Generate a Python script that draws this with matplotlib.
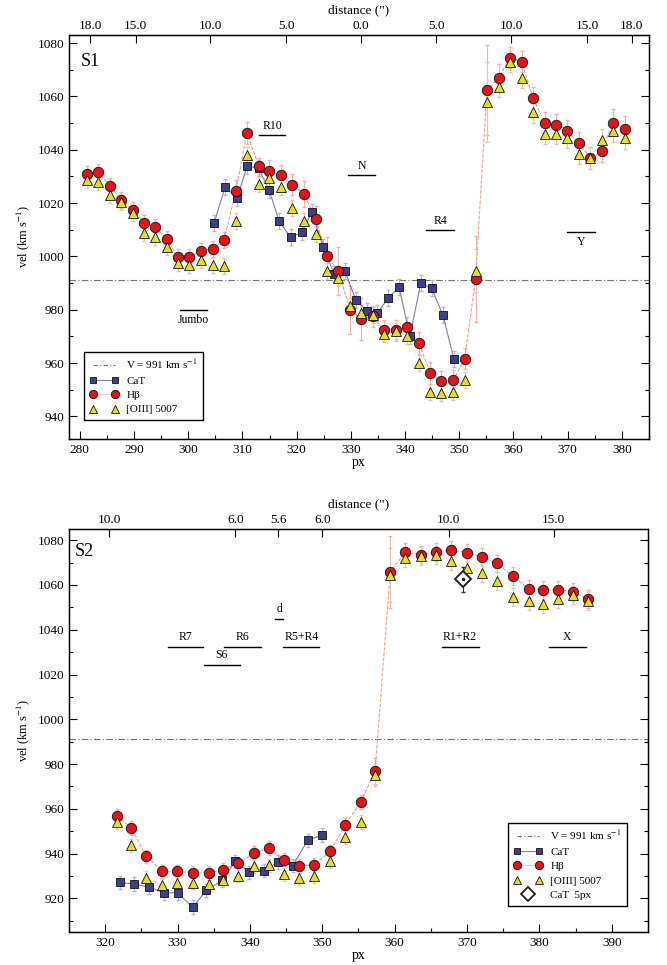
import numpy as np
import matplotlib
matplotlib.use("Agg")
import matplotlib.pyplot as plt
from matplotlib.ticker import MultipleLocator
from matplotlib.legend_handler import HandlerLine2D

plt.rcParams['font.family'] = ['Liberation Serif', 'DejaVu Serif']
plt.rcParams['mathtext.fontset'] = 'stix'

# ---------------- S1 data ----------------
s1_px = [281.3, 283.3, 285.6, 287.6, 289.8, 291.9, 293.9, 296.0, 298.1, 300.2,
         302.4, 304.5, 306.6, 308.8, 310.8, 313.0, 314.9, 317.1, 319.2, 321.4,
         323.5, 325.6, 327.6, 329.9, 331.9, 334.0, 336.1, 338.3, 340.4, 342.6,
         344.6, 346.7, 348.9, 351.0, 353.0, 355.1, 357.3, 359.3, 361.5, 363.6,
         365.8, 367.9, 369.9, 372.0, 374.2, 376.3, 378.3, 380.5]
s1_hb = [1031.0, 1031.6, 1026.5, 1021.2, 1017.5, 1012.7, 1011.0, 1006.6, 999.8, 999.8,
         1002.2, 1002.9, 1006.0, 1024.6, 1046.3, 1034.0, 1032.2, 1030.4, 1026.9, 1023.4,
         1014.0, 1000.2, 994.7, 980.0, 976.5, 977.5, 972.2, 972.2, 973.4, 967.5,
         956.3, 953.1, 953.5, 961.6, 991.5, 1062.5, 1067.1, 1074.6, 1073.1, 1059.4,
         1050.0, 1049.4, 1047.2, 1042.7, 1036.9, 1039.4, 1050.2, 1047.8]
s1_hb_err = [3, 3, 3, 3, 3, 3, 3, 3, 3, 3,
             3, 3, 3, 4, 4, 3, 4, 4, 4, 5,
             5, 7, 9, 9, 8, 4, 4, 4, 4, 4,
             4, 4, 4, 4, 16, 17, 5, 4, 4, 4,
             4, 4, 4, 4, 4, 4, 5, 5]
s1_oiii = [1028.7, 1028.1, 1022.9, 1020.5, 1016.3, 1008.8, 1007.1, 1003.5, 997.5, 996.9,
           998.7, 996.9, 996.5, 1013.1, 1037.9, 1027.2, 1029.4, 1025.9, 1018.1, 1013.1,
           1008.4, 994.4, 991.9, 981.5, 978.8, 977.9, 970.9, 972.1, 970.3, 960.0,
           949.1, 948.8, 949.1, 953.8, 994.7, 1058.1, 1063.7, 1073.1, 1067.1, 1054.0,
           1046.0, 1046.0, 1044.6, 1038.5, 1036.9, 1043.7, 1047.1, 1044.4]
s1_oiii_err = [3] * 34 + [8, 15] + [4] * 12
s1_cat_px = [304.8, 306.8, 309.0, 310.9, 313.0, 314.9, 316.8, 318.9, 320.9, 322.8,
             324.9, 326.9, 328.9, 330.9, 333.0, 334.9, 336.9, 338.9, 340.9, 342.9,
             344.9, 347.0, 349.0]
s1_cat = [1012.7, 1026.0, 1021.9, 1034.0, 1033.0, 1025.0, 1013.1, 1007.1, 1009.0, 1016.6,
          1003.5, 993.5, 994.6, 983.7, 979.4, 978.8, 984.4, 988.5, 970.0, 990.0,
          988.1, 977.9, 961.6]
s1_cat_err = [3] * 23
s1_top_pos = [281.9, 290.3, 304.1, 318.1, 331.9, 345.8, 359.6, 373.6, 381.8]
s1_top_lab = ['18.0', '15.0', '10.0', '5.0', '0.0', '5.0', '10.0', '15.0', '18.0']
s1_regions = ['R10', 'N', 'R4', 'Y', 'Jumbo']
s1_reg_x = [(313.1, 317.9), (329.4, 334.5), (343.9, 349.0), (369.9, 375.1), (298.5, 303.5)]
s1_reg_y = [1045.6, 1030.4, 1010.0, 1009.1, 980.0]

# ---------------- S2 data ----------------
s2_px = [321.7, 323.6, 325.7, 327.9, 329.9, 332.1, 334.3, 336.3, 338.4, 340.5,
         342.6, 344.7, 346.8, 348.9, 351.1, 353.2, 355.3, 357.3, 359.4, 361.5,
         363.6, 365.7, 367.8, 370.0, 372.1, 374.2, 376.3, 378.5, 380.5, 382.6,
         384.7, 386.7]
s2_hb = [956.9, 951.4, 938.8, 932.1, 932.1, 931.4, 931.4, 932.9, 935.6, 940.3,
         942.5, 937.3, 934.4, 935.1, 941.0, 952.9, 963.0, 976.9, 1065.9, 1074.7,
         1073.6, 1074.8, 1075.6, 1074.4, 1072.6, 1069.6, 1064.0, 1058.4, 1057.6, 1057.9,
         1057.0, 1053.6]
s2_hb_err = [3] * 17 + [6, 16] + [4] * 13
s2_oiii = [954.1, 943.7, 929.2, 925.8, 927.0, 927.0, 926.5, 928.4, 930.2, 934.4,
           934.8, 930.7, 929.2, 929.9, 936.6, 947.4, 954.1, 975.1, 1064.4, 1072.1,
           1072.9, 1073.2, 1070.7, 1067.4, 1065.5, 1061.8, 1054.7, 1052.9, 1051.4, 1053.6,
           1055.4, 1052.9]
s2_oiii_err = [3] * 17 + [5, 12] + [4] * 13
s2_cat_px = [322.1, 324.0, 326.1, 328.1, 330.0, 332.1, 334.0, 336.2, 338.0, 339.9,
             342.0, 343.9, 345.9, 348.0, 350.0]
s2_cat = [927.2, 926.4, 925.0, 922.5, 922.5, 916.1, 923.6, 928.1, 936.6, 931.7,
          932.4, 936.3, 934.7, 945.9, 948.4]
s2_cat_err = [3] * 15
s2_cat5_px = [369.4]
s2_cat5 = [1062.5]
s2_cat5_err = [5.5]
s2_top_pos = [320.6, 338.0, 343.9, 350.0, 367.5, 382.0]
s2_top_lab = ['10.0', '6.0', '5.6', '6.0', '10.0', '15.0']
s2_regions = ['R7', 'R6', 'S6', 'd', 'R5+R4', 'R1+R2', 'X']
s2_reg_x = [(328.7, 333.5), (336.4, 341.5), (333.6, 338.6), (343.5, 344.6),
            (344.6, 349.6), (366.5, 371.6), (381.3, 386.4)]
s2_reg_y = [1032.4, 1032.4, 1024.4, 1044.9, 1032.4, 1032.4, 1032.4]

V0 = 991

c_cat = '#3b3f8c'
c_hb = '#e3121b'
c_oiii = '#e2df1e'


def draw_panel(ax, px, hb, hb_err, oiii, oiii_err, cat_px, cat, cat_err):
    ax.axhline(V0, color='#777777', ls=(0, (6, 2, 1, 2)), lw=0.8, zorder=1)
    ax.errorbar(px, hb, yerr=hb_err, fmt='none', ecolor='#f2b0b0', elinewidth=0.8,
                capsize=1.5, zorder=2)
    ax.errorbar(px, oiii, yerr=oiii_err, fmt='none', ecolor='#ddc8b8', elinewidth=0.8,
                capsize=1.5, zorder=2)
    ax.errorbar(cat_px, cat, yerr=cat_err, fmt='none', ecolor='#b8b8cc', elinewidth=0.8,
                capsize=1.5, zorder=2)
    ax.plot(px, hb, color='#e89090', lw=0.7, ls='--', zorder=3)
    ax.plot(px, oiii, color='#e8dca0', lw=0.6, ls=':', zorder=3)
    ax.plot(cat_px, cat, color='#8080a8', lw=0.8, marker='s', ms=6, mfc=c_cat,
            mec='#111111', mew=0.6, zorder=4)
    ax.plot(px, hb, ls='none', marker='o', ms=7.5, mfc=c_hb, mec='#111111', mew=0.6,
            zorder=5)
    ax.plot(px, oiii, ls='none', marker='^', ms=6.5, mfc=c_oiii, mec='#111111', mew=0.6,
            zorder=6)


def style_axes(ax, xlim, ylim, top_pos, top_lab):
    ax.set_xlim(*xlim)
    ax.set_ylim(*ylim)
    ax.xaxis.set_major_locator(MultipleLocator(10))
    ax.xaxis.set_minor_locator(MultipleLocator(5))
    ax.yaxis.set_major_locator(MultipleLocator(20))
    ax.yaxis.set_minor_locator(MultipleLocator(10))
    ax.tick_params(which='both', direction='in', right=True, top=False, labelsize=9.5)
    ax.tick_params(which='major', length=6, width=0.8)
    ax.tick_params(which='minor', length=3, width=0.8)
    ax.set_xlabel('px', fontsize=10, labelpad=0)
    ax.set_ylabel('vel (km s$^{-1}$)', fontsize=9, labelpad=4)
    for s in ax.spines.values():
        s.set_linewidth(1.0)
    ax2 = ax.twiny()
    ax2.set_xlim(*xlim)
    ax2.set_xticks(top_pos)
    ax2.set_xticklabels(top_lab)
    ax2.tick_params(direction='in', length=6, width=0.8, labelsize=9.5, pad=2)
    ax2.set_xlabel('distance (")', fontsize=9.5, labelpad=5)
    return ax2


fig = plt.figure(figsize=(6.67, 9.65), dpi=100)
ax1 = fig.add_axes([0.1034, 0.5451, 0.8696, 0.419])
ax3 = fig.add_axes([0.1034, 0.0342, 0.868, 0.4176])

# ---- S1 ----
draw_panel(ax1, s1_px, s1_hb, s1_hb_err, s1_oiii, s1_oiii_err, s1_cat_px, s1_cat, s1_cat_err)
style_axes(ax1, (278, 385), (931.5, 1083.2), s1_top_pos, s1_top_lab)
ax1.text(0.02, 0.955, 'S1', transform=ax1.transAxes, fontsize=13, va='top', ha='left')
for name, (x0, x1), y in zip(s1_regions, s1_reg_x, s1_reg_y):
    ax1.plot([x0, x1], [y, y], color='black', lw=1.0)
    if name in ('Y', 'Jumbo'):
        ax1.text((x0 + x1) / 2, y - 1.5, name, ha='center', va='top', fontsize=8.5)
    else:
        ax1.text((x0 + x1) / 2, y + 1.2, name, ha='center', va='bottom', fontsize=8.5)

h_v = plt.Line2D([], [], color='#777777', ls=(0, (4, 2, 1, 2)), lw=0.8)
h_cat = plt.Line2D([], [], color='#8080a8', lw=0.8, marker='s', ms=5, mfc=c_cat, mec='#111111', mew=0.6)
h_hb = plt.Line2D([], [], color='#f0c0c0', lw=0.6, marker='o', ms=6, mfc=c_hb, mec='#111111', mew=0.6)
h_oiii = plt.Line2D([], [], color='none', marker='^', ms=5.5, mfc=c_oiii, mec='#111111', mew=0.6)
leg_kw = dict(borderaxespad=0, fontsize=8, numpoints=2, handlelength=2.6, fancybox=False,
              framealpha=1, edgecolor='black', borderpad=0.5, labelspacing=0.42,
              handletextpad=0.7)
leg = ax1.legend([h_v, h_cat, h_hb, h_oiii],
                 ['V = 991 km s$^{-1}$', 'CaT', 'Hβ', '[OIII] 5007'],
                 loc='lower left', bbox_to_anchor=(0.026, 0.047), **leg_kw)
leg.get_frame().set_linewidth(1.0)

# ---- S2 ----
draw_panel(ax3, s2_px, s2_hb, s2_hb_err, s2_oiii, s2_oiii_err, s2_cat_px, s2_cat, s2_cat_err)
ax3.errorbar(s2_cat5_px, s2_cat5, yerr=s2_cat5_err, fmt='none', ecolor='#333333',
             elinewidth=0.8, capsize=1.5, zorder=6)
ax3.plot(s2_cat5_px, s2_cat5, ls='none', marker='D', ms=8, mfc='white', mec='#222222',
         mew=1.4, zorder=7)
ax3.plot(s2_cat5_px, s2_cat5, ls='none', marker='.', ms=3, color='#222222', zorder=8)
style_axes(ax3, (315, 395), (905, 1085), s2_top_pos, s2_top_lab)
ax3.text(0.01, 0.965, 'S2', transform=ax3.transAxes, fontsize=13, va='top', ha='left')
for name, (x0, x1), y in zip(s2_regions, s2_reg_x, s2_reg_y):
    ax3.plot([x0, x1], [y, y], color='black', lw=1.0)
    ax3.text((x0 + x1) / 2, y + 1.5, name, ha='center', va='bottom', fontsize=8.5)

h_c5 = plt.Line2D([], [], color='none', marker='D', ms=7, mfc='white', mec='#222222', mew=1.3)
leg2 = ax3.legend([h_v, h_cat, h_hb, h_oiii, h_c5],
                  ['V = 991 km s$^{-1}$', 'CaT', 'Hβ', '[OIII] 5007', 'CaT  5px'],
                  loc='lower right', bbox_to_anchor=(0.964, 0.065),
                  handler_map={h_c5: HandlerLine2D(numpoints=1)}, **leg_kw)
leg2.get_frame().set_linewidth(1.0)

plt.savefig('out.png', dpi=100)
